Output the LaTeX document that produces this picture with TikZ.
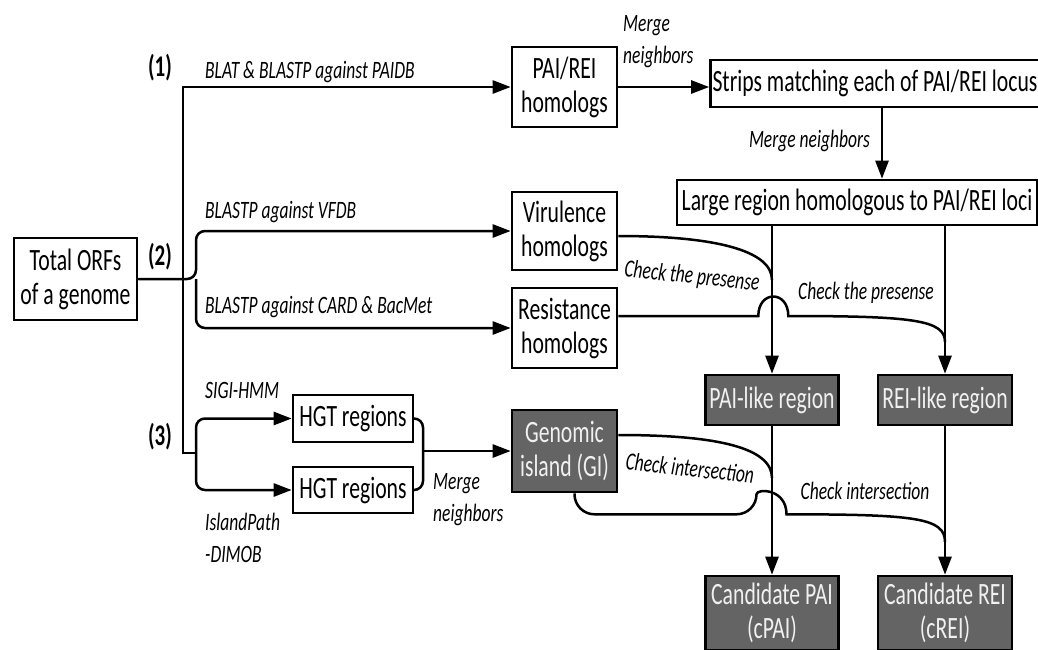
\documentclass[tikz,border=0pt]{standalone}
\usepackage{fontspec}
\setmainfont{Carlito}[FakeStretch=0.70]
\usetikzlibrary{arrows.meta, calc}
\definecolor{islandgray}{RGB}{100,100,100}
\tikzset{
    box/.style={draw, line width=2.6pt, rectangle, inner sep=2pt, align=center, font={\fontsize{31}{34}\selectfont}},
    darkbox/.style={box, fill=islandgray, text=white!88!gray},
    lbl/.style={inner sep=0pt, align=left, font={\fontsize{25}{32}\selectfont\itshape}},
    checklbl/.style={inner sep=0pt, font={\fontsize{25}{28}\selectfont\itshape}},
    num/.style={inner sep=0pt, font={\fontsize{30}{34}\selectfont\bfseries}},
    link/.style={line width=2.5pt},
    arrow/.style={link, -{Triangle[length=18pt, width=13pt]}}
}

\begin{document}
\begin{tikzpicture}[x=1pt, y=-1pt]
\useasboundingbox (0,0) rectangle (1038,649);

% boxes
\node[box, minimum width=123pt, minimum height=82pt] (orfs) at (75.5,279) {Total ORFs\\of a genome};
\node[box, minimum width=105pt, minimum height=80pt] (paihom) at (564.5,87) {PAI/REI\\homologs};
\node[box, minimum width=326pt, minimum height=47pt] (strips) at (875,83.5) {Strips matching each of PAI/REI locus};
\node[box, minimum width=360pt, minimum height=45pt] (large) at (857,202.5) {Large region homologous to PAI/REI loci};
\node[box, minimum width=105pt, minimum height=78pt] (vir) at (564.5,231) {Virulence\\homologs};
\node[box, minimum width=105pt, minimum height=80pt] (res) at (564.5,328) {Resistance\\homologs};
\node[box, minimum width=120pt, minimum height=47pt] (hgta) at (353,418.5) {HGT regions};
\node[box, minimum width=120pt, minimum height=46pt] (hgtb) at (353,490) {HGT regions};
\node[darkbox, minimum width=105pt, minimum height=82pt] (gi) at (564.5,451) {Genomic\\island (GI)};
\node[darkbox, minimum width=133pt, minimum height=50pt] (pail) at (772,400) {PAI-like region};
\node[darkbox, minimum width=134pt, minimum height=50pt] (reil) at (945,400) {REI-like region};
\node[darkbox, minimum width=133pt, minimum height=74pt] (cpai) at (772,613) {Candidate PAI\\(cPAI)};
\node[darkbox, minimum width=134pt, minimum height=74pt] (crei) at (945,613) {Candidate REI\\(cREI)};

% numbers and labels
\node[num] (n1) at (160,68) {(1)};
\node[num] (n2) at (160,257) {(2)};
\node[num] (n3) at (160,437) {(3)};
\node[lbl, anchor=base west] (l1) at (205,78) {BLAT \& BLASTP against PAIDB};
\node[lbl, anchor=base west] (l2) at (205,218) {BLASTP against VFDB};
\node[lbl, anchor=base west] (l3) at (205,313) {BLASTP against CARD \& BacMet};
\node[lbl, anchor=base west] (l4) at (205,398) {SIGI-HMM};
\node[lbl, anchor=north west] (l5) at (205,513) {IslandPath\\-DIMOB};
\node[lbl, anchor=north west] (mg1) at (623,15) {Merge\\neighbors};
\node[lbl, anchor=base east] (mg2) at (870,147) {Merge neighbors};
\node[lbl, anchor=north west] (mg3) at (433,473) {Merge\\neighbors};
\node[checklbl, rotate=-6] (ck1) at (692,277) {Check the presense};
\node[checklbl] (ck2) at (866,293) {Check the presense};
\node[checklbl, rotate=-6] (ck3) at (690,468) {Check intersection};
\node[checklbl] (ck4) at (865,491) {Check intersection};

% branch points
\coordinate (j) at (183,279);
\coordinate (s2) at (196,279);
\coordinate (s3) at (196,453);
\coordinate (m3) at (423,451);
\coordinate (sd) at ($(strips.south)+(7,0)$);
\coordinate (vm) at (772,280);
\coordinate (rm) at (945,342);
\coordinate (gm) at (772,478);
\coordinate (gr) at (945,542);

% connectors
\draw[link] (orfs.east) -- (j);
\draw[arrow] (j) |- (paihom.west);
\draw[link] (j) |- (s3);
\draw[arrow, rounded corners=9pt] (orfs.east) -- (s2) |- (vir.west);
\draw[arrow, rounded corners=9pt] (s2) |- (res.west);
\draw[arrow, rounded corners=9pt] (s3) |- (hgta.west);
\draw[arrow, rounded corners=9pt] (s3) |- (hgtb.west);
\draw[link, rounded corners=9pt] (hgta.east) -| (m3);
\draw[link, rounded corners=9pt] (hgtb.east) -| (m3);
\draw[arrow] (m3) -- (gi.west);
\draw[arrow] (paihom.east) -- (paihom.east -| strips.west);
\draw[arrow] (sd) -- (sd |- large.north);
\draw[arrow] (large.south -| pail.north) -- (pail.north);
\draw[arrow] (large.south -| reil.north) -- (reil.north);
\draw[arrow] (pail.south) -- (cpai.north);
\draw[arrow] (reil.south) -- (crei.north);

% check curves with bridges
\draw[link] ($(vir.east)+(0,5)$) .. controls +(95,0) and +(0,-30) .. (vm);
\draw[link] ($(res.east)+(0,-12)$) -- ++(140,0) .. controls +(0,-26) and +(0,-26) .. ++(30,0)
    .. controls +(125,0) and +(0,-22) .. (rm);
\draw[link] ($(gi.east)+(0,-16)$) .. controls +(100,0) and +(0,-30) .. (gm);
\draw[link] ($(gi.south)+(10,0)$) [rounded corners=20pt] |- ++(182,21) [sharp corners]
    .. controls +(0,-26) and +(0,-26) .. ++(30,0)
    .. controls +(130,0) and +(0,-24) .. (gr);
\end{tikzpicture}
\end{document}
